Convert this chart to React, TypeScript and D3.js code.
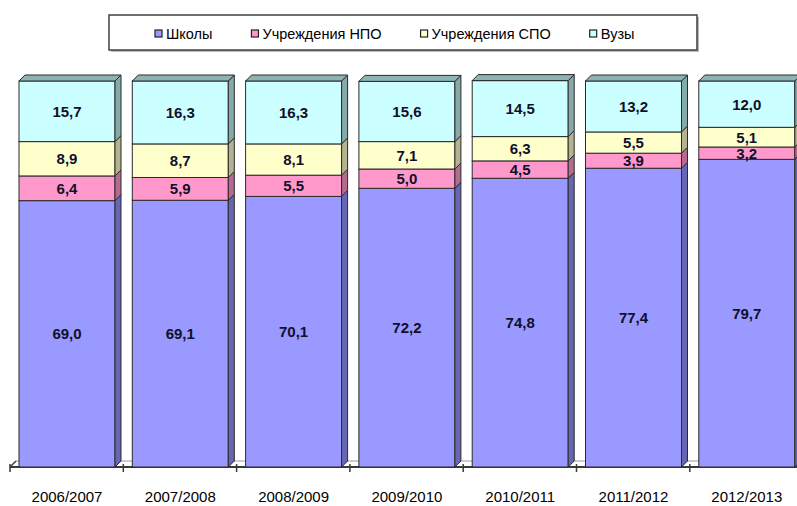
import React, { useEffect, useRef } from 'react';
import * as d3 from 'd3';

// school years on the x axis
const years = ['2006/2007', '2007/2008', '2008/2009', '2009/2010', '2010/2011', '2011/2012', '2012/2013'];

// shares in percent, bottom to top
const shkoly = [69.0, 69.1, 70.1, 72.2, 74.8, 77.4, 79.7];
const npo = [6.4, 5.9, 5.5, 5.0, 4.5, 3.9, 3.2];
const spo = [8.9, 8.7, 8.1, 7.1, 6.3, 5.5, 5.1];
const vuzy = [15.7, 16.3, 16.3, 15.6, 14.5, 13.2, 12.0];

const seriesNames = ['Школы', 'Учреждения НПО', 'Учреждения СПО', 'Вузы'];
const seriesValues = [shkoly, npo, spo, vuzy];

const frontColors = ['#9999ff', '#ff99cc', '#ffffcc', '#ccffff'];
const sideColors = ['#6666b3', '#b36b8f', '#b3b38f', '#85aaaa'];
const topColors = ['#7a7acc', '#cc7aa3', '#cccca3', '#8fb3b3'];

const W = 797;
const H = 506;

const App: React.FC = () => {
  const svgRef = useRef<SVGSVGElement | null>(null);

  useEffect(() => {
    document.body.style.margin = '0';
    if (!svgRef.current) return;
    const svg = d3.select(svgRef.current);
    svg.selectAll('*').remove();

    const base = 467;
    const depth = 6;
    const barOffset = 9;
    const barWidth = 96;
    const font = 'Arial, "Liberation Sans", sans-serif';

    const x = d3.scaleBand<string>()
      .domain(years)
      .range([10, 10 + years.length * 113.3])
      .padding(0);

    const y = d3.scaleLinear().domain([0, 100]).range([base, 81]);

    // floor / axis
    const axis = svg.append('g');
    axis.append('line')
      .attr('x1', 10 + depth).attr('x2', W)
      .attr('y1', base - depth).attr('y2', base - depth)
      .attr('stroke', '#9a9a9a').attr('stroke-width', 1);
    axis.append('line')
      .attr('x1', 10).attr('x2', W)
      .attr('y1', base).attr('y2', base)
      .attr('stroke', '#3a3a3a').attr('stroke-width', 2);
    axis.append('line')
      .attr('x1', 10).attr('x2', 10 + depth)
      .attr('y1', base).attr('y2', base - depth)
      .attr('stroke', '#3a3a3a').attr('stroke-width', 1.5);
    const ticks = years.map(d => x(d) as number);
    axis.selectAll('.tick')
      .data(ticks)
      .enter()
      .append('line')
      .attr('x1', d => d).attr('x2', d => d)
      .attr('y1', base - 3).attr('y2', base + 5)
      .attr('stroke', '#3a3a3a').attr('stroke-width', 1.5);

    // bars
    const stacked = d3.stack<number>()
      .keys(seriesNames.map((_, i) => String(i)))
      .value((idx, key) => seriesValues[+key][idx])(years.map((_, i) => i));

    years.forEach((yr, ci) => {
      const g = svg.append('g');
      const x0 = (x(yr) as number) + barOffset;
      const x1 = x0 + barWidth;
      stacked.forEach((layer, si) => {
        const [v0, v1] = layer[ci];
        const yb = y(v0);
        const yt = y(v1);
        g.append('rect')
          .attr('x', x0).attr('y', yt)
          .attr('width', barWidth).attr('height', yb - yt)
          .attr('fill', frontColors[si])
          .attr('stroke', '#2a2a2a').attr('stroke-width', 1);
        g.append('polygon')
          .attr('points', [[x1, yb], [x1 + depth, yb - depth], [x1 + depth, yt - depth], [x1, yt]].map(p => p.join(',')).join(' '))
          .attr('fill', sideColors[si])
          .attr('stroke', '#2a2a2a').attr('stroke-width', 1);
        if (si === stacked.length - 1) {
          g.append('polygon')
            .attr('points', [[x0, yt], [x0 + depth, yt - depth], [x1 + depth, yt - depth], [x1, yt]].map(p => p.join(',')).join(' '))
            .attr('fill', topColors[si])
            .attr('stroke', '#2a2a2a').attr('stroke-width', 1);
        }
      });
      stacked.forEach((layer, si) => {
        const [v0, v1] = layer[ci];
        g.append('text')
          .attr('x', x0 + barWidth / 2)
          .attr('y', (y(v0) + y(v1)) / 2)
          .attr('dy', '0.36em')
          .attr('text-anchor', 'middle')
          .attr('font-family', font)
          .attr('font-weight', 'bold')
          .attr('font-size', 15)
          .attr('fill', '#10102a')
          .text(d3.format('.1f')(seriesValues[si][ci]).replace('.', ','));
      });
    });

    // x labels
    svg.append('g')
      .selectAll('text')
      .data(years)
      .enter()
      .append('text')
      .attr('x', d => (x(d) as number) + barOffset + barWidth / 2)
      .attr('y', 497)
      .attr('dy', '0.36em')
      .attr('text-anchor', 'middle')
      .attr('font-family', font)
      .attr('font-size', 15)
      .attr('fill', '#000')
      .text(d => d);

    // legend
    const leg = svg.append('g');
    leg.append('rect')
      .attr('x', 111).attr('y', 17).attr('width', 588).attr('height', 35)
      .attr('fill', '#bbb');
    leg.append('rect')
      .attr('x', 109).attr('y', 15).attr('width', 588).attr('height', 35)
      .attr('fill', '#fff').attr('stroke', '#404040').attr('stroke-width', 1.5);
    let lx = 155;
    seriesNames.forEach((name, i) => {
      leg.append('rect')
        .attr('x', lx).attr('y', 30).attr('width', 7).attr('height', 7)
        .attr('fill', frontColors[i]).attr('stroke', '#222').attr('stroke-width', 1.2);
      const t = leg.append('text')
        .attr('x', lx + 11).attr('y', 34)
        .attr('dy', '0.36em')
        .attr('font-family', font)
        .attr('font-size', 14.5)
        .attr('fill', '#000')
        .text(name);
      const w = (t.node() as SVGTextElement).getComputedTextLength();
      lx += 11 + w + 39;
    });
  }, []);

  return <svg ref={svgRef} width={W} height={H} style={{ display: 'block', background: '#fff' }}></svg>;
};

export default App;
